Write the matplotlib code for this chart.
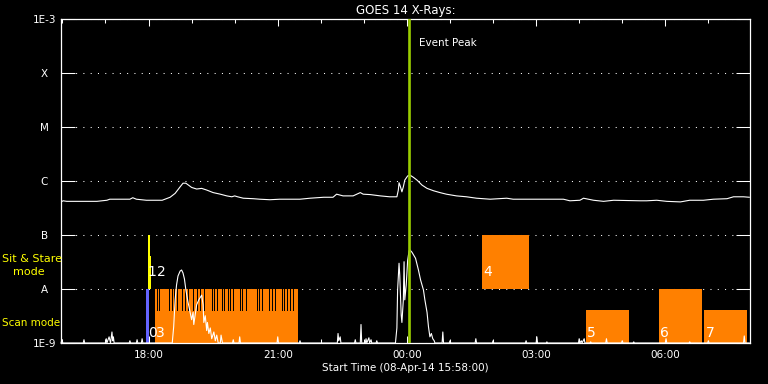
import datetime as dt
import matplotlib
matplotlib.use('Agg')
import matplotlib.pyplot as plt
import matplotlib.dates as mdates

plt.rcParams['font.family'] = 'DejaVu Sans'

START = dt.datetime(2014, 4, 8, 15, 58)
SPAN_MIN = 960

# GOES 1-8 A channel: minutes after start, flux (W/m^2)
long_min = [0, 3, 8, 50, 64, 68, 96, 100, 105, 119, 133, 141, 152, 159, 166, 170,
            174, 182, 189, 196, 203, 212, 222, 231, 238, 242, 246, 254, 268, 277,
            291, 305, 319, 333, 347, 366, 379, 384, 393, 407, 417, 421, 431, 445,
            458, 468, 470, 471, 473, 475, 477, 479, 483, 486, 491, 496, 503, 510,
            519, 528, 537, 551, 565, 579, 598, 621, 630, 649, 677, 700, 709, 723,
            728, 742, 756, 770, 807, 816, 830, 844, 863, 876, 895, 909, 928, 937,
            951, 959]
long_flux = [4.1e-7, 4.3e-7, 4.2e-7, 4.2e-7, 4.4e-7, 4.6e-7, 4.6e-7, 4.9e-7, 4.6e-7,
             4.4e-7, 4.4e-7, 4.4e-7, 5.0e-7, 5.9e-7, 7.8e-7, 9.1e-7, 9.1e-7, 7.6e-7,
             7.1e-7, 7.3e-7, 6.8e-7, 6.1e-7, 5.7e-7, 5.3e-7, 5.1e-7, 5.3e-7, 5.1e-7,
             4.8e-7, 4.7e-7, 4.6e-7, 4.5e-7, 4.6e-7, 4.6e-7, 4.6e-7, 4.8e-7, 5.0e-7,
             5.0e-7, 5.7e-7, 5.3e-7, 5.3e-7, 6.1e-7, 5.7e-7, 5.6e-7, 5.3e-7, 5.1e-7,
             5.1e-7, 6.8e-7, 9.3e-7, 7.8e-7, 6.3e-7, 7.8e-7, 1.04e-6, 1.24e-6, 1.29e-6,
             1.17e-6, 1.04e-6, 8.4e-7, 7.3e-7, 6.6e-7, 6.1e-7, 5.7e-7, 5.3e-7, 5.1e-7,
             4.8e-7, 4.6e-7, 4.8e-7, 4.6e-7, 4.6e-7, 4.6e-7, 4.6e-7, 4.3e-7, 4.4e-7,
             4.8e-7, 4.4e-7, 4.2e-7, 4.4e-7, 4.3e-7, 4.3e-7, 4.4e-7, 4.2e-7, 4.1e-7,
             4.4e-7, 4.4e-7, 4.6e-7, 4.7e-7, 5.1e-7, 5.1e-7, 5.0e-7]

# GOES 0.5-4 A channel: minutes after start, flux (W/m^2)
short_min = [0, 1.4, 2.5, 31, 32, 33, 62, 63, 64, 67, 69, 71, 72, 73, 74, 95, 96, 97,
             105, 106, 107, 112, 113, 114,
             155, 157, 159, 161, 163, 166, 168, 170, 172, 174, 177, 180, 182, 184, 185,
             187, 189, 192, 196, 198, 199, 201, 203, 204, 206, 208, 210, 213, 215, 217,
             219, 222, 223, 225, 239, 240, 241, 248, 249, 250, 301, 302, 303, 332, 333,
             334, 385, 386, 387, 389, 390, 409, 410, 411, 417, 418, 419, 424, 425, 426,
             429, 430, 432, 433, 439, 440, 441,
             466, 468, 469, 471, 472, 474, 475, 477, 478, 479, 481, 483, 485, 486, 489,
             494, 498, 501, 505, 507, 510, 512, 514, 516, 518, 520, 521,
             531, 532, 533, 541, 542, 543, 577, 578, 579, 601, 602, 603, 647, 648, 649,
             662, 663, 664, 676, 677, 678, 721, 722, 723, 725, 726, 729, 730, 737, 738,
             739, 759, 760, 761, 781, 782, 783, 797, 798, 799, 842, 843, 844, 875, 876,
             877, 901, 902, 903, 951, 952, 953, 959]
short_flux = [1e-9, 1.15e-9, 1e-9, 1e-9, 1.15e-9, 1e-9, 1e-9, 1.2e-9, 1e-9, 1.3e-9, 1e-9,
              1.6e-9, 1.1e-9, 1.3e-9, 1e-9, 1e-9, 1.1e-9, 1e-9, 1e-9, 1.15e-9, 1e-9,
              1e-9, 1.2e-9, 1e-9,
              1e-9, 2.0e-9, 6.3e-9, 1.19e-8, 1.74e-8, 2.15e-8, 2.25e-8, 1.98e-8, 1.53e-8,
              9.6e-9, 5.7e-9, 3.6e-9, 2.7e-9, 3.7e-9, 2.2e-9, 3.3e-9, 5.1e-9, 6.3e-9,
              7.7e-9, 5.1e-9, 2.4e-9, 3.2e-9, 1.7e-9, 2.4e-9, 1.5e-9, 1.9e-9, 1.2e-9,
              1.6e-9, 1.1e-9, 1.4e-9, 1e-9, 1e-9, 1.4e-9, 1e-9, 1e-9, 1.15e-9, 1e-9,
              1e-9, 1.3e-9, 1e-9, 1e-9, 1.3e-9, 1e-9, 1e-9, 1.1e-9, 1e-9, 1e-9, 1.5e-9,
              1.1e-9, 1.3e-9, 1e-9, 1e-9, 1.15e-9, 1e-9, 1e-9, 2.2e-9, 1e-9, 1e-9,
              1.2e-9, 1e-9, 1.25e-9, 1e-9, 1.15e-9, 1e-9, 1e-9, 1.1e-9, 1e-9,
              1e-9, 1.9e-9, 9.6e-9, 3.0e-8, 1.8e-8, 3.3e-9, 2.4e-9, 6.3e-9, 3.2e-8,
              6.3e-9, 1.19e-8, 3.4e-8, 5.1e-8, 5.3e-8, 4.8e-8, 3.7e-8, 2.25e-8, 1.47e-8,
              9.6e-9, 6.3e-9, 3.7e-9, 2.0e-9, 1.3e-9, 1.5e-9, 1.2e-9, 1.1e-9, 1e-9,
              1e-9, 1.6e-9, 1e-9, 1e-9, 1.1e-9, 1e-9, 1e-9, 1.2e-9, 1e-9, 1e-9, 1.1e-9,
              1e-9, 1e-9, 1.1e-9, 1e-9, 1e-9, 1.3e-9, 1e-9, 1e-9, 1.05e-9, 1e-9, 1e-9,
              1.2e-9, 1e-9, 1.1e-9, 1e-9, 1.2e-9, 1e-9, 1e-9, 1.05e-9, 1e-9, 1e-9,
              1.2e-9, 1e-9, 1e-9, 1.1e-9, 1e-9, 1e-9, 1.05e-9, 1e-9, 1e-9, 1.2e-9, 1e-9,
              1e-9, 1.05e-9, 1e-9, 1e-9, 1.1e-9, 1e-9, 1e-9, 1.35e-9, 1e-9, 1e-9]

# Observation blocks: id, start/end (minutes after start), flux range
obs_ids = ['0', '1', '2', '3', '4', '5', '6', '7']
obs_start = [119, 121, 124, 131, 587, 731, 833, 896]
obs_end = [122.6, 124, 125.4, 330, 652, 791, 893, 956]
obs_low = [1e-9, 1e-8, 1e-8, 1e-9, 1e-8, 1e-9, 1e-9, 1e-9]
obs_high = [1e-8, 1e-7, 4.1e-8, 1e-8, 1e-7, 4.1e-9, 1e-8, 4.1e-9]
obs_color = ['#6464ff', '#ffff00', '#ffff00', '#ff8000', '#ff8000', '#ff8000', '#ff8000', '#ff8000']

# Gaps inside block 3 (minutes after start)
gap_min = [134, 136.5, 151, 154, 157.5, 162, 169, 173, 177, 184.6, 190, 193.7, 198.6,
           209.7, 213, 217, 224, 227.5, 232.7, 236, 239.7, 249.4, 252.6, 257.8, 272.7,
           276, 279.7, 289.8, 293.5, 298.2, 307.5, 311, 315, 319, 323.7]
gap_low, gap_high = 4.1e-9, 1e-8

event_min = 485

level_vals = [1e-9, 1e-8, 1e-7, 1e-6, 1e-5, 1e-4, 1e-3]
level_labels = ['1E-9', 'A', 'B', 'C', 'M', 'X', '1E-3']


def to_date(minutes):
    return [mdates.date2num(START + dt.timedelta(minutes=m)) for m in minutes]


fig = plt.figure(figsize=(7.68, 3.84), dpi=100, facecolor='black')
ax = fig.add_axes([61 / 768, 41 / 384, 689 / 768, 324 / 384])
ax.set_facecolor('black')
ax.set_yscale('log')

# observation blocks
xs = to_date(obs_start)
xe = to_date(obs_end)
label_dx = {'1': 0.0, '2': 4.9}
for i, lab in enumerate(obs_ids):
    ax.bar(xs[i], obs_high[i] - obs_low[i], width=xe[i] - xs[i], bottom=obs_low[i],
           align='edge', color=obs_color[i], linewidth=0, zorder=2)
    ly = 1.5e-9 if obs_low[i] < 5e-9 else 2.1e-8
    ax.annotate(lab, (xs[i], ly), xytext=(label_dx.get(lab, 1.0), 0),
                textcoords='offset points', color='white', fontsize=10,
                va='center', ha='left', zorder=6)

ax.vlines(to_date(gap_min), gap_low, gap_high, color='black', lw=0.5,
          antialiased=False, zorder=3)

# flux curves
ax.plot(to_date(long_min), long_flux, color='white', lw=0.8, zorder=4)
ax.plot(to_date(short_min), short_flux, color='white', lw=0.8, zorder=4, clip_on=False)

# event peak
ev = to_date([event_min])[0]
ax.axvline(ev, color='#9acd00', lw=1.9, zorder=5)
ax.annotate('Event Peak', xy=(ev, 0.926), xycoords=('data', 'axes fraction'),
            xytext=(7, 0), textcoords='offset points', color='white',
            fontsize=7.5, va='center')

ax.set_xlim(to_date([0, SPAN_MIN]))
ax.set_ylim(1e-9, 1e-3)

ax.set_yticks(level_vals)
ax.set_yticklabels(level_labels)
ax.yaxis.set_minor_locator(matplotlib.ticker.NullLocator())
for t in ax.get_yticklabels():
    t.set_horizontalalignment('center')
ax.tick_params(axis='y', which='major', direction='in', length=10, width=0.75,
               color='white', labelcolor='white', labelsize=7.5, pad=12,
               left=True, right=True)
ax.yaxis.grid(True, color='white', linestyle=(0, (1, 6)), lw=0.75, zorder=1)

ax.xaxis.set_major_locator(mdates.HourLocator(byhour=range(0, 24, 3)))
ax.xaxis.set_minor_locator(mdates.HourLocator())
ax.xaxis.set_major_formatter(mdates.DateFormatter('%H:%M'))
ax.tick_params(axis='x', which='major', direction='in', length=4.8, width=0.75,
               color='white', labelcolor='white', labelsize=7.5, pad=5,
               top=True, bottom=True)
ax.tick_params(axis='x', which='minor', direction='in', length=2.9, width=0.75,
               color='white', top=True, bottom=True)

for s in ax.spines.values():
    s.set_color('white')
    s.set_linewidth(0.9)

ax.set_title('GOES 14 X-Rays:', color='white', fontsize=8.5, pad=3.5)
ax.set_xlabel('Start Time (08-Apr-14 15:58:00)', color='white', fontsize=7.5, labelpad=2)

fig.text(2 / 768, 1 - 259 / 384, 'Sit & Stare', color='#ffff00', fontsize=8, va='center')
fig.text(13 / 768, 1 - 272 / 384, 'mode', color='#ffff00', fontsize=8, va='center')
fig.text(2 / 768, 1 - 323 / 384, 'Scan mode', color='#ffff00', fontsize=7.5, va='center')

fig.savefig('out.png', dpi=100, facecolor='black')
